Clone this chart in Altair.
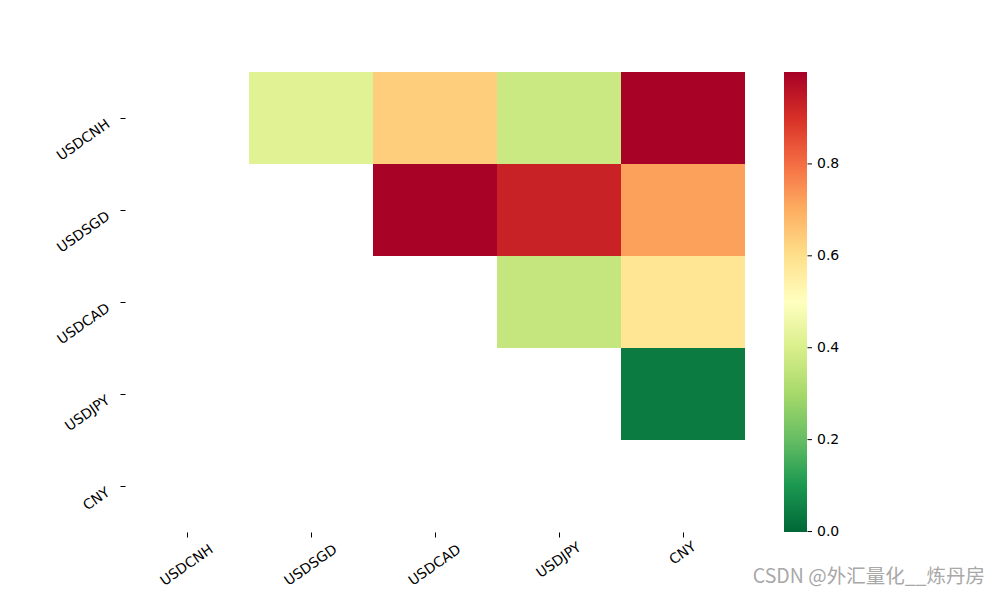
import altair as alt
import pandas as pd

labels = ["USDCNH", "USDSGD", "USDCAD", "USDJPY", "CNY"]
row_names = ["USDCNH", "USDCNH", "USDCNH", "USDCNH", "USDSGD", "USDSGD", "USDSGD", "USDCAD", "USDCAD", "USDJPY"]
col_names = ["USDSGD", "USDCAD", "USDJPY", "CNY", "USDCAD", "USDJPY", "CNY", "USDJPY", "CNY", "CNY"]
corr_vals = [0.42, 0.636, 0.373, 0.995, 0.995, 0.93, 0.72, 0.361, 0.58, 0.04]

cmap_stops = [-0.001, 0.1, 0.2, 0.3, 0.4, 0.5, 0.6, 0.7, 0.8, 0.9, 1.0]
cmap_colors = ["#006837", "#1a9850", "#66bd63", "#a6d96a", "#d9ef8b", "#ffffbf",
               "#fee08b", "#fdae61", "#f46d43", "#d73027", "#a50026"]
legend_ticks = [0.0, 0.2, 0.4, 0.6, 0.8]

df = pd.DataFrame({"row": row_names, "col": col_names, "value": corr_vals})
ticks_df = pd.DataFrame({"v": legend_ticks})

FONT = "DejaVu Sans"
FS = 14

x_pad = {"condition": [{"test": "datum.value === 'CNY'", "value": 16},
                       {"test": "datum.value === 'USDJPY'", "value": 23}],
         "value": 28}

heat = alt.Chart(df).mark_rect().encode(
    x=alt.X("col:N", sort=labels, scale=alt.Scale(domain=labels, paddingInner=0, paddingOuter=0),
            axis=alt.Axis(title=None, labelAngle=-35, labelAlign="center", labelBaseline="middle",
                          domain=False, tickSize=5, tickColor="black", labelPadding=x_pad,
                          labelFontSize=FS, labelFont=FONT, labelColor="black")),
    y=alt.Y("row:N", sort=labels, scale=alt.Scale(domain=labels, paddingInner=0, paddingOuter=0),
            axis=alt.Axis(title=None, labelAngle=-35, labelAlign="right", labelBaseline="middle",
                          domain=False, tickSize=5, tickColor="black", labelPadding=12,
                          labelOffset=5,
                          labelFontSize=FS, labelFont=FONT, labelColor="black")),
    color=alt.Color("value:Q",
                    scale=alt.Scale(domain=cmap_stops, range=cmap_colors, interpolate="rgb"),
                    legend=alt.Legend(title=None, orient="none", legendX=659, legendY=0,
                                      direction="vertical", gradientLength=460,
                                      gradientThickness=23, values=legend_ticks, format=".1f",
                                      labelFontSize=FS, labelFont=FONT, labelColor="black",
                                      labelOffset=10, gradientStrokeWidth=0)),
)

cbar_ticks = alt.Chart(ticks_df).mark_rule(stroke="black", strokeWidth=1).encode(
    y=alt.Y("v:Q", scale=alt.Scale(domain=[cmap_stops[0], cmap_stops[-1]], nice=False, zero=False),
            axis=None),
    x=alt.value(682.5), x2=alt.value(687),
)

watermark = alt.Chart(pd.DataFrame({"t": ["CSDN @外汇量化__炼丹房"]})).mark_text(
    align="right", baseline="middle", fontSize=19.5, color="#a8a8a8",
    font="Noto Sans CJK SC", clip=False
).encode(x=alt.value(860), y=alt.value(505), text="t:N")

chart = alt.layer(heat, watermark, cbar_ticks).resolve_scale(
    y="independent", color="independent"
).properties(
    width=620, height=460,
    padding={"left": 117, "top": 64, "right": 247, "bottom": 58},
    autosize=alt.AutoSizeParams(type="none"),
).configure_view(stroke=None)

chart.save("out.html", embed_options={"renderer": "svg", "actions": False})
